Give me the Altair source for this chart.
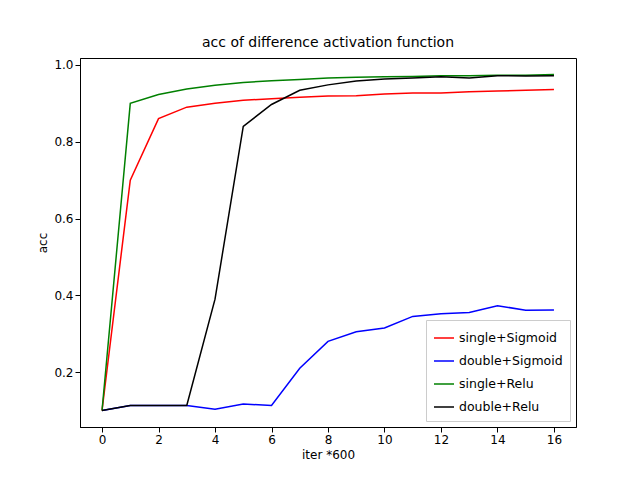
import pandas as pd
import altair as alt

iters = list(range(17))
single_sigmoid = [0.1, 0.70, 0.86, 0.89, 0.90, 0.908, 0.912, 0.916, 0.919, 0.92, 0.924, 0.927, 0.927, 0.93, 0.932, 0.934, 0.936]
double_sigmoid = [0.10, 0.113, 0.113, 0.113, 0.103, 0.117, 0.113, 0.21, 0.28, 0.305, 0.315, 0.345, 0.352, 0.355, 0.373, 0.361, 0.362]
single_relu = [0.1, 0.90, 0.923, 0.937, 0.947, 0.954, 0.959, 0.962, 0.966, 0.968, 0.969, 0.970, 0.972, 0.972, 0.973, 0.973, 0.975]
double_relu = [0.1, 0.113, 0.113, 0.113, 0.39, 0.84, 0.897, 0.934, 0.948, 0.958, 0.963, 0.966, 0.969, 0.966, 0.972, 0.971, 0.972]

series = {
    "single+Sigmoid": (single_sigmoid, "red"),
    "double+Sigmoid": (double_sigmoid, "blue"),
    "single+Relu": (single_relu, "green"),
    "double+Relu": (double_relu, "black"),
}
rows = []
for name, (vals, _) in series.items():
    for i, v in zip(iters, vals):
        rows.append({"iter": i, "acc": v, "series": name})
df = pd.DataFrame(rows)

chart = (
    alt.Chart(df)
    .mark_line(strokeWidth=1.5)
    .encode(
        x=alt.X("iter:Q", title="iter *600", scale=alt.Scale(domain=[-0.78, 16.78], nice=False, zero=False),
                axis=alt.Axis(values=list(range(0, 17, 2)), grid=False)),
        y=alt.Y("acc:Q", title="acc", scale=alt.Scale(domain=[0.057, 1.018], nice=False, zero=False),
                axis=alt.Axis(values=[0.2, 0.4, 0.6, 0.8, 1.0], format=".1f", grid=False)),
        color=alt.Color("series:N", sort=list(series.keys()),
                        scale=alt.Scale(domain=list(series.keys()), range=[c for _, c in series.values()]),
                        legend=alt.Legend(title=None, orient="bottom-right", symbolType="stroke",
                                          fillColor="white", strokeColor="#cccccc", padding=7,
                                          offset=6, rowPadding=5, labelFontSize=12.5,
                                          symbolSize=400, symbolStrokeWidth=1.5)),
    )
    .properties(width=496, height=369, title="acc of difference activation function",
                autosize=alt.AutoSizeParams(type="none"),
                padding={"left": 72, "top": 50, "right": 56, "bottom": 45})
    .configure_view(stroke="black")
    .configure_axis(domainColor="black", tickColor="black", labelColor="black", titleColor="black",
                    labelFontSize=12, titleFontSize=12, titleFontWeight="normal", labelFont="DejaVu Sans",
                    titleFont="DejaVu Sans")
    .configure_title(fontSize=14, fontWeight="normal", font="DejaVu Sans", offset=8)
    .configure_legend(labelFont="DejaVu Sans")
)

chart.save("out.html", embed_options={"renderer": "svg", "actions": False})
